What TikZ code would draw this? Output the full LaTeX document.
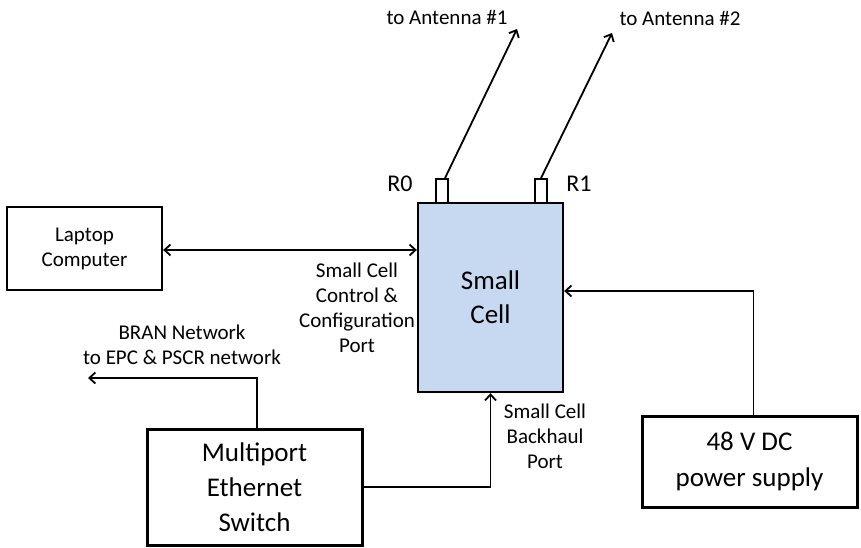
\documentclass[tikz,border=0pt]{standalone}
\usepackage{fontspec}
\setmainfont{Carlito}
\usetikzlibrary{arrows.meta}
\definecolor{cellblue}{RGB}{198,217,240}
\tikzset{
  box/.style={draw, line width=2.3pt, inner sep=0pt, align=center},
  thickbox/.style={draw, line width=3pt, inner sep=0pt, align=center},
  port/.style={draw, line width=1.8pt, fill=white, inner sep=0pt, minimum width=12pt, minimum height=24pt},
  tip/.style={Straight Barb[length=6pt,width=11pt,line width=1.8pt]},
  conn/.style={line width=1.8pt, -{Straight Barb[length=6pt,width=11pt,line width=1.8pt]}},
  lbl/.style={font=\fontsize{21}{25}\selectfont, align=center, inner sep=0pt},
  big/.style={font=\fontsize{27}{34}\selectfont},
  mid/.style={font=\fontsize{21}{25}\selectfont},
}
\begin{document}
\begin{tikzpicture}[x=1pt,y=-1pt]
\useasboundingbox (0,0) rectangle (861,548);
% Small cell
\node[box, fill=cellblue, minimum width=145pt, minimum height=189pt, big] (sc) at (490.5,297.5) {Small\\Cell};
\node[port] (p0) at (442,191) {};
\node[port] (p1) at (541,191) {};
\node[lbl, font=\fontsize{24}{28}\selectfont] (r0) at (400,184) {R0};
\node[lbl, font=\fontsize{24}{28}\selectfont] (r1) at (579,184) {R1};
\coordinate (ant1) at (517,29);
\coordinate (ant2) at (612,33);
\draw[conn] ([xshift=3pt]p0.north) -- (ant1);
\draw[conn] (p1.north) -- (ant2);
\node[lbl] (t1) at (447,17) {to Antenna \#1};
\node[lbl] (t2) at (680,18) {to Antenna \#2};
% Laptop
\node[box, minimum width=155pt, minimum height=83pt, mid] (lap) at (84.5,248.5) {Laptop\\Computer};
\draw[line width=1.8pt, {Straight Barb[length=6pt,width=11pt,line width=1.8pt]}-{Straight Barb[length=6pt,width=11pt,line width=1.8pt]}] ([yshift=-1.5pt]lap.east) -- ([yshift=-1.5pt]lap.east -| sc.west);
\node[lbl] (ctl) at (357,308) {Small Cell\\Control \&\\Configuration\\Port};
% Switch
\node[thickbox, minimum width=215pt, minimum height=116pt, big, font=\fontsize{27}{35}\selectfont] (sw) at (254.5,487) {Multiport\\Ethernet\\Switch};
\coordinate (bran) at (88,378);
\draw[conn] ([xshift=2.5pt]sw.north) |- (bran);
\node[lbl] (branl) at (182,345) {BRAN Network\\to EPC \& PSCR network};
\draw[conn] (sw.east) -| (sc.south);
\node[lbl] (bh) at (545,436) {Small Cell\\Backhaul\\Port};
% Power
\node[thickbox, minimum width=215pt, minimum height=91pt, big, font=\fontsize{27}{36}\selectfont] (pw) at (749.5,461.5) {48 V DC\\power supply};
\draw[conn] ([xshift=4pt]pw.north) |- ([yshift=6.5pt]sc.east);
\end{tikzpicture}
\end{document}
